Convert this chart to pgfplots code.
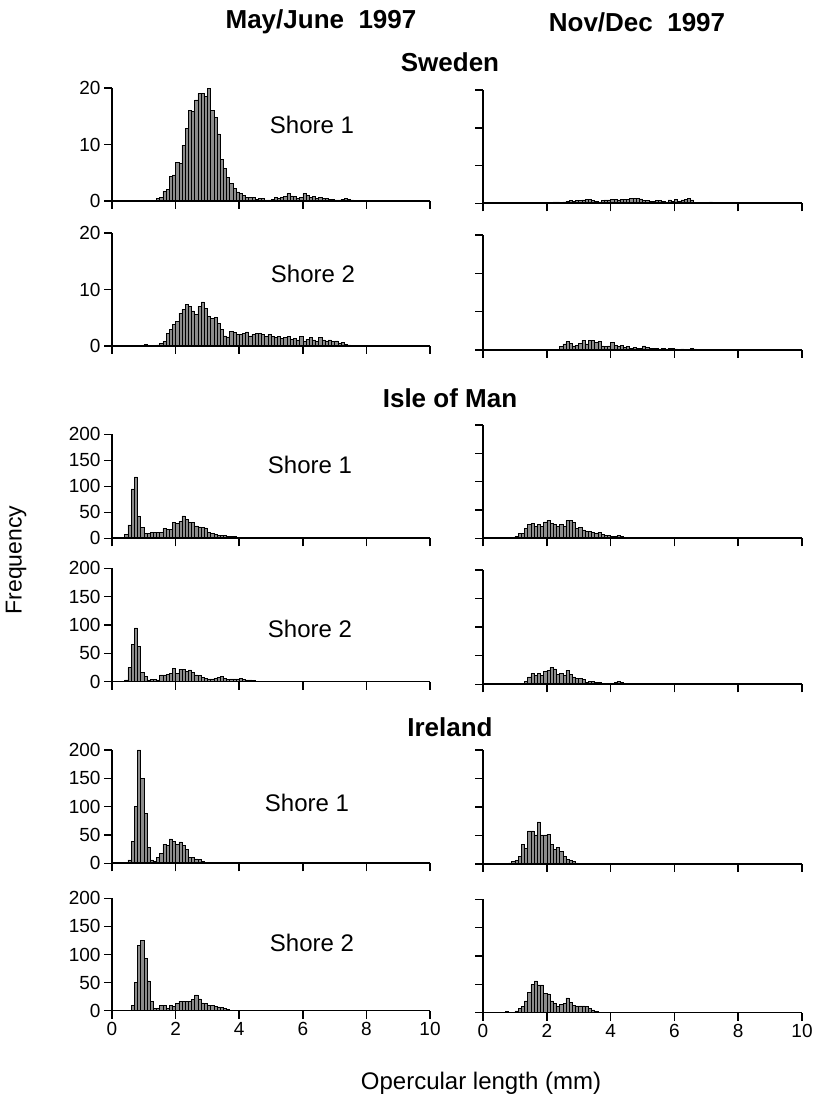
\documentclass[border=0pt]{standalone}
\usepackage{fontspec}
\setmainfont{Liberation Sans}
\usepackage{pgfplots}
\pgfplotsset{compat=1.18}
\definecolor{barfill}{gray}{0.55}
\pgfplotsset{
  panel/.style={
    scale only axis, anchor=south west,
    xmin=0, xmax=10, ymin=0,
    axis x line=bottom, axis y line=left,
    axis line style={line width=1.6pt, -},
    every tick/.style={line width=1.5pt, black},
    tick align=outside, major tick length=8pt,
    xtick={0,2,4,6,8,10}, xticklabels={},
    tick label style={font=\fontsize{19}{21}\selectfont},
    axis on top, clip=false,
  },
  lcol/.style={panel, width=318pt},
  rcol/.style={panel, width=319pt, yticklabels={}},
  swl/.style={ymax=20, ytick={0,10,20}, yticklabels={0,10,20}},
  swr/.style={ymax=30, ytick={0,10,20,30}},
  big/.style={ymax=200, ytick={0,50,100,150,200}},
  bigl/.style={big, yticklabels={0,50,100,150,200}},
  bottomx/.style={xticklabels={0,2,4,6,8,10}},
  hist/.style={ybar, bar width=0.1, bar shift=0pt, fill=barfill, draw=black, line width=0.5pt},
}
\begin{document}
\begin{tikzpicture}
\path[use as bounding box] (0,0) rectangle (812pt,1103pt);

% ---------- Sweden, May/June, Shore 1
\begin{axis}[lcol, swl, at={(112pt,902pt)}, height=113pt]
\addplot[hist] coordinates {(1.45,0.4)(1.55,0.7)(1.65,1.7)(1.75,2.1)(1.85,4.4)(1.95,4.6)(2.05,6.9)(2.15,6.6)(2.25,9.9)(2.35,12.9)(2.45,16.1)(2.55,15.8)(2.65,17.9)(2.75,19.0)(2.85,19.0)(2.95,18.5)(3.05,19.9)(3.15,16.0)(3.25,14.8)(3.35,11.9)(3.45,7.4)(3.55,5.8)(3.65,4.2)(3.75,3.1)(3.85,2.2)(3.95,1.6)(4.05,1.3)(4.15,1.0)(4.25,0.6)(4.35,0.6)(4.45,0.7)(4.55,0.3)(4.65,0.4)(4.75,0.4)(4.85,0.2)(4.95,0.2)(5.05,0.3)(5.15,0.6)(5.25,0.4)(5.35,0.6)(5.45,0.8)(5.55,1.3)(5.65,0.9)(5.75,0.8)(5.85,0.4)(5.95,0.6)(6.05,1.3)(6.15,1.0)(6.25,0.6)(6.35,0.8)(6.45,0.5)(6.55,0.7)(6.65,0.4)(6.75,0.5)(6.85,0.3)(6.95,0.3)(7.05,0.2)(7.15,0.2)(7.25,0.3)(7.35,0.5)(7.45,0.3)(7.55,0.2)(7.65,0.1)(7.75,0.1)(7.85,0.1)(7.95,0.1)};
\end{axis}
% ---------- Sweden, May/June, Shore 2
\begin{axis}[lcol, swl, at={(112pt,757pt)}, height=113pt]
\addplot[hist] coordinates {(1.05,0.3)(1.45,0.2)(1.55,0.4)(1.65,0.8)(1.75,2.2)(1.85,3.0)(1.95,3.8)(2.05,4.4)(2.15,5.8)(2.25,6.5)(2.35,7.4)(2.45,7.0)(2.55,6.2)(2.65,5.6)(2.75,7.0)(2.85,7.8)(2.95,6.7)(3.05,5.2)(3.15,4.9)(3.25,5.0)(3.35,4.0)(3.45,3.0)(3.55,1.8)(3.65,1.6)(3.75,2.6)(3.85,2.4)(3.95,2.0)(4.05,2.0)(4.15,2.2)(4.25,2.5)(4.35,1.8)(4.45,2.1)(4.55,2.2)(4.65,2.2)(4.75,2.1)(4.85,1.7)(4.95,2.1)(5.05,1.7)(5.15,1.5)(5.25,1.7)(5.35,1.4)(5.45,1.5)(5.55,1.7)(5.65,1.2)(5.75,1.4)(5.85,1.1)(5.95,1.7)(6.05,0.8)(6.15,1.2)(6.25,1.5)(6.35,1.1)(6.45,0.8)(6.55,1.5)(6.65,1.1)(6.75,0.9)(6.85,1.1)(6.95,0.8)(7.05,0.9)(7.15,0.5)(7.25,0.6)(7.35,0.3)(7.45,0.2)(7.55,0.1)(7.65,0.1)(7.75,0.1)};
\end{axis}
% ---------- Sweden, Nov/Dec, Shore 1
\begin{axis}[rcol, swr, at={(483pt,899.7pt)}, height=113.3pt]
\addplot[hist] coordinates {(1.25,0.2)(1.35,0.2)(1.45,0.2)(1.55,0.1)(1.65,0.2)(1.75,0.2)(1.85,0.2)(1.95,0.2)(2.05,0.1)(2.15,0.2)(2.25,0.4)(2.35,0.4)(2.45,0.3)(2.55,0.4)(2.65,0.5)(2.75,0.7)(2.85,0.5)(2.95,0.8)(3.05,0.7)(3.15,0.9)(3.25,1.1)(3.35,1.0)(3.45,0.8)(3.55,0.6)(3.65,0.4)(3.75,0.7)(3.85,0.9)(3.95,0.9)(4.05,1.0)(4.15,1.0)(4.25,0.9)(4.35,1.0)(4.45,1.1)(4.55,1.1)(4.65,1.3)(4.75,1.3)(4.85,1.4)(4.95,1.2)(5.05,0.8)(5.15,0.8)(5.25,0.5)(5.35,0.5)(5.45,0.7)(5.55,0.8)(5.65,0.5)(5.75,0.4)(5.85,0.9)(5.95,0.6)(6.05,1.0)(6.15,0.6)(6.25,0.9)(6.35,1.0)(6.45,1.3)(6.55,0.9)(6.65,0.3)(6.75,0.3)(6.85,0.2)(6.95,0.2)(7.05,0.1)(7.15,0.4)(7.25,0.3)(7.35,0.2)(7.45,0.3)(7.55,0.3)(7.65,0.2)(7.75,0.1)(7.85,0.3)(7.95,0.2)(8.05,0.2)(8.15,0.1)(8.25,0.2)(8.35,0.2)(8.45,0.1)(8.55,0.1)};
\end{axis}
% ---------- Sweden, Nov/Dec, Shore 2
\begin{axis}[rcol, swr, at={(483pt,753pt)}, height=115pt]
\addplot[hist] coordinates {(2.45,0.9)(2.55,1.6)(2.65,2.2)(2.75,1.8)(2.85,1.1)(2.95,1.2)(3.05,1.8)(3.15,2.5)(3.25,1.6)(3.35,2.5)(3.45,2.6)(3.55,1.9)(3.65,2.2)(3.75,1.1)(3.85,0.9)(3.95,1.1)(4.05,1.9)(4.15,1.3)(4.25,0.9)(4.35,1.2)(4.45,0.7)(4.55,0.9)(4.65,0.5)(4.75,0.7)(4.85,0.4)(4.95,0.5)(5.05,1.1)(5.15,0.7)(5.25,0.5)(5.35,0.4)(5.45,0.5)(5.55,0.3)(5.65,0.4)(5.75,0.3)(5.85,0.4)(5.95,0.4)(6.05,0.3)(6.15,0.2)(6.25,0.3)(6.35,0.2)(6.45,0.2)(6.55,0.4)(6.65,0.3)(6.75,0.2)(6.85,0.2)(6.95,0.1)(7.05,0.2)(7.15,0.1)(7.25,0.2)(7.35,0.1)(7.45,0.1)(7.55,0.1)(7.65,0.1)(7.75,0.1)(7.85,0.1)(7.95,0.1)(8.05,0.1)(8.95,0.1)};
\end{axis}

% ---------- Isle of Man, May/June, Shore 1
\begin{axis}[lcol, bigl, at={(112pt,564.7pt)}, height=104pt]
\addplot[hist] coordinates {(0.35,1)(0.45,8)(0.55,26)(0.65,95)(0.75,118)(0.85,42)(0.95,21)(1.05,10)(1.15,10)(1.25,12)(1.35,12)(1.45,12)(1.55,12)(1.65,19)(1.75,17)(1.85,17)(1.95,31)(2.05,29)(2.15,33)(2.25,43)(2.35,37)(2.45,31)(2.55,30)(2.65,24)(2.75,22)(2.85,21)(2.95,20)(3.05,12)(3.15,10)(3.25,8)(3.35,6)(3.45,5)(3.55,5)(3.65,4)(3.75,3)(3.85,3)(3.95,2)(4.05,2)(4.15,2)(4.25,1)(4.35,1)(4.45,1)(4.55,1)(4.65,1)(4.75,1)(4.85,1)(4.95,1)(5.05,1)(5.15,1)(5.25,1)(5.35,1)(5.45,1)};
\end{axis}
% ---------- Isle of Man, May/June, Shore 2
\begin{axis}[lcol, bigl, at={(112pt,421.3pt)}, height=113.4pt]
\addplot[hist] coordinates {(0.45,3)(0.55,25)(0.65,66)(0.75,95)(0.85,62)(0.95,16)(1.05,10)(1.15,3)(1.25,4)(1.35,4)(1.45,3)(1.55,12)(1.65,12)(1.75,13)(1.85,15)(1.95,24)(2.05,15)(2.15,22)(2.25,22)(2.35,18)(2.45,21)(2.55,16)(2.65,12)(2.75,11)(2.85,8)(2.95,6)(3.05,5)(3.15,5)(3.25,6)(3.35,8)(3.45,10)(3.55,6)(3.65,4)(3.75,5)(3.85,5)(3.95,5)(4.05,6)(4.15,4)(4.25,3)(4.35,3)(4.45,2)(4.55,1)(4.65,1)};
\end{axis}
% ---------- Isle of Man, Nov/Dec, Shore 1
\begin{axis}[rcol, big, at={(483pt,564.7pt)}, height=113.3pt]
\addplot[hist] coordinates {(0.95,2)(1.05,4)(1.15,9)(1.25,9)(1.35,18)(1.45,24)(1.55,26)(1.65,21)(1.75,25)(1.85,21)(1.95,29)(2.05,32)(2.15,26)(2.25,24)(2.35,21)(2.45,24)(2.55,21)(2.65,31)(2.75,32)(2.85,28)(2.95,18)(3.05,19)(3.15,15)(3.25,12)(3.35,12)(3.45,11)(3.55,9)(3.65,11)(3.75,7)(3.85,5)(3.95,5)(4.05,3)(4.15,3)(4.25,5)(4.35,3)(4.45,2)(4.55,1)(4.65,1)(4.75,1)(4.85,1)(4.95,1)(5.05,1)(5.25,1)(5.45,1)};
\end{axis}
% ---------- Isle of Man, Nov/Dec, Shore 2
\begin{axis}[rcol, big, at={(483pt,418.7pt)}, height=114.3pt]
\addplot[hist] coordinates {(0.65,1)(1.25,2)(1.35,5)(1.45,13)(1.55,19)(1.65,16)(1.75,19)(1.85,16)(1.95,22)(2.05,25)(2.15,29)(2.25,27)(2.35,17)(2.45,19)(2.55,15)(2.65,25)(2.75,17)(2.85,13)(2.95,10)(3.05,10)(3.15,8)(3.25,3)(3.35,5)(3.45,5)(3.55,3)(3.65,3)(3.75,2)(3.85,2)(3.95,2)(4.05,2)(4.15,3)(4.25,5)(4.35,3)(4.45,2)(4.55,1)(4.65,1)(4.85,1)(5.05,1)};
\end{axis}

% ---------- Ireland, May/June, Shore 1
\begin{axis}[lcol, bigl, at={(112pt,239.7pt)}, height=113.3pt]
\addplot[hist] coordinates {(0.55,6)(0.65,39)(0.75,101)(0.85,200)(0.95,150)(1.05,88)(1.15,28)(1.25,6)(1.35,4)(1.45,11)(1.55,18)(1.65,34)(1.75,31)(1.85,43)(1.95,39)(2.05,34)(2.15,38)(2.25,32)(2.35,24)(2.45,11)(2.55,11)(2.65,8)(2.75,7)(2.85,3)(2.95,2)(3.05,1)(3.15,1)(3.25,1)(3.35,1)(3.45,1)(3.55,1)(3.65,1)};
\end{axis}
% ---------- Ireland, May/June, Shore 2
\begin{axis}[lcol, bigl, bottomx, at={(112pt,92.3pt)}, height=112.4pt]
\addplot[hist] coordinates {(0.65,10)(0.75,50)(0.85,116)(0.95,125)(1.05,93)(1.15,53)(1.25,16)(1.35,4)(1.45,4)(1.55,9)(1.65,9)(1.75,4)(1.85,10)(1.95,8)(2.05,13)(2.15,17)(2.25,17)(2.35,17)(2.45,16)(2.55,20)(2.65,28)(2.75,21)(2.85,14)(2.95,13)(3.05,10)(3.15,10)(3.25,8)(3.35,7)(3.45,6)(3.55,4)(3.65,2)(3.75,1)(3.85,1)(3.95,1)(4.15,1)(4.35,1)};
\end{axis}
% ---------- Ireland, Nov/Dec, Shore 1
\begin{axis}[rcol, big, at={(483pt,239pt)}, height=114pt]
\addplot[hist] coordinates {(0.55,1)(0.65,1)(0.75,1)(0.85,2)(0.95,4)(1.05,7)(1.15,14)(1.25,35)(1.35,27)(1.45,58)(1.55,58)(1.65,51)(1.75,74)(1.85,51)(1.95,51)(2.05,52)(2.15,35)(2.25,25)(2.35,29)(2.45,22)(2.55,13)(2.65,8)(2.75,6)(2.85,4)(2.95,2)(3.05,1)(3.15,1)(3.25,1)(3.35,1)};
\end{axis}
% ---------- Ireland, Nov/Dec, Shore 2
\begin{axis}[rcol, big, bottomx, at={(483pt,90.3pt)}, height=113.4pt]
\addplot[hist] coordinates {(0.75,2)(1.05,3)(1.15,8)(1.25,11)(1.35,21)(1.45,36)(1.55,50)(1.65,56)(1.75,49)(1.85,49)(1.95,34)(2.05,33)(2.15,21)(2.25,16)(2.35,11)(2.45,15)(2.55,16)(2.65,26)(2.75,18)(2.85,13)(2.95,12)(3.05,12)(3.15,12)(3.25,11)(3.35,8)(3.45,5)(3.55,2)(3.65,1)(3.75,1)(3.85,1)};
\end{axis}

% ---------- texts
\node[font=\fontsize{26}{28}\selectfont\bfseries] at (321pt,1081pt) {May/June\ \ 1997};
\node[font=\fontsize{26}{28}\selectfont\bfseries] at (637pt,1081pt) {Nov/Dec\ \ 1997};
\node[font=\fontsize{26}{28}\selectfont\bfseries] at (450pt,1041pt) {Sweden};
\node[font=\fontsize{26}{28}\selectfont\bfseries] at (450pt,705pt) {Isle of Man};
\node[font=\fontsize{26}{28}\selectfont\bfseries] at (450pt,376pt) {Ireland};
\node[font=\fontsize{24}{26}\selectfont] at (312pt,978pt) {Shore 1};
\node[font=\fontsize{24}{26}\selectfont] at (313pt,829pt) {Shore 2};
\node[font=\fontsize{24}{26}\selectfont] at (310pt,638pt) {Shore 1};
\node[font=\fontsize{24}{26}\selectfont] at (310pt,474pt) {Shore 2};
\node[font=\fontsize{24}{26}\selectfont] at (307pt,300pt) {Shore 1};
\node[font=\fontsize{24}{26}\selectfont] at (312pt,160pt) {Shore 2};
\node[font=\fontsize{23}{25}\selectfont, rotate=90] at (16pt,543pt) {Frequency};
\node[font=\fontsize{24}{26}\selectfont] at (481pt,20pt) {Opercular length (mm)};
\end{tikzpicture}
\end{document}
